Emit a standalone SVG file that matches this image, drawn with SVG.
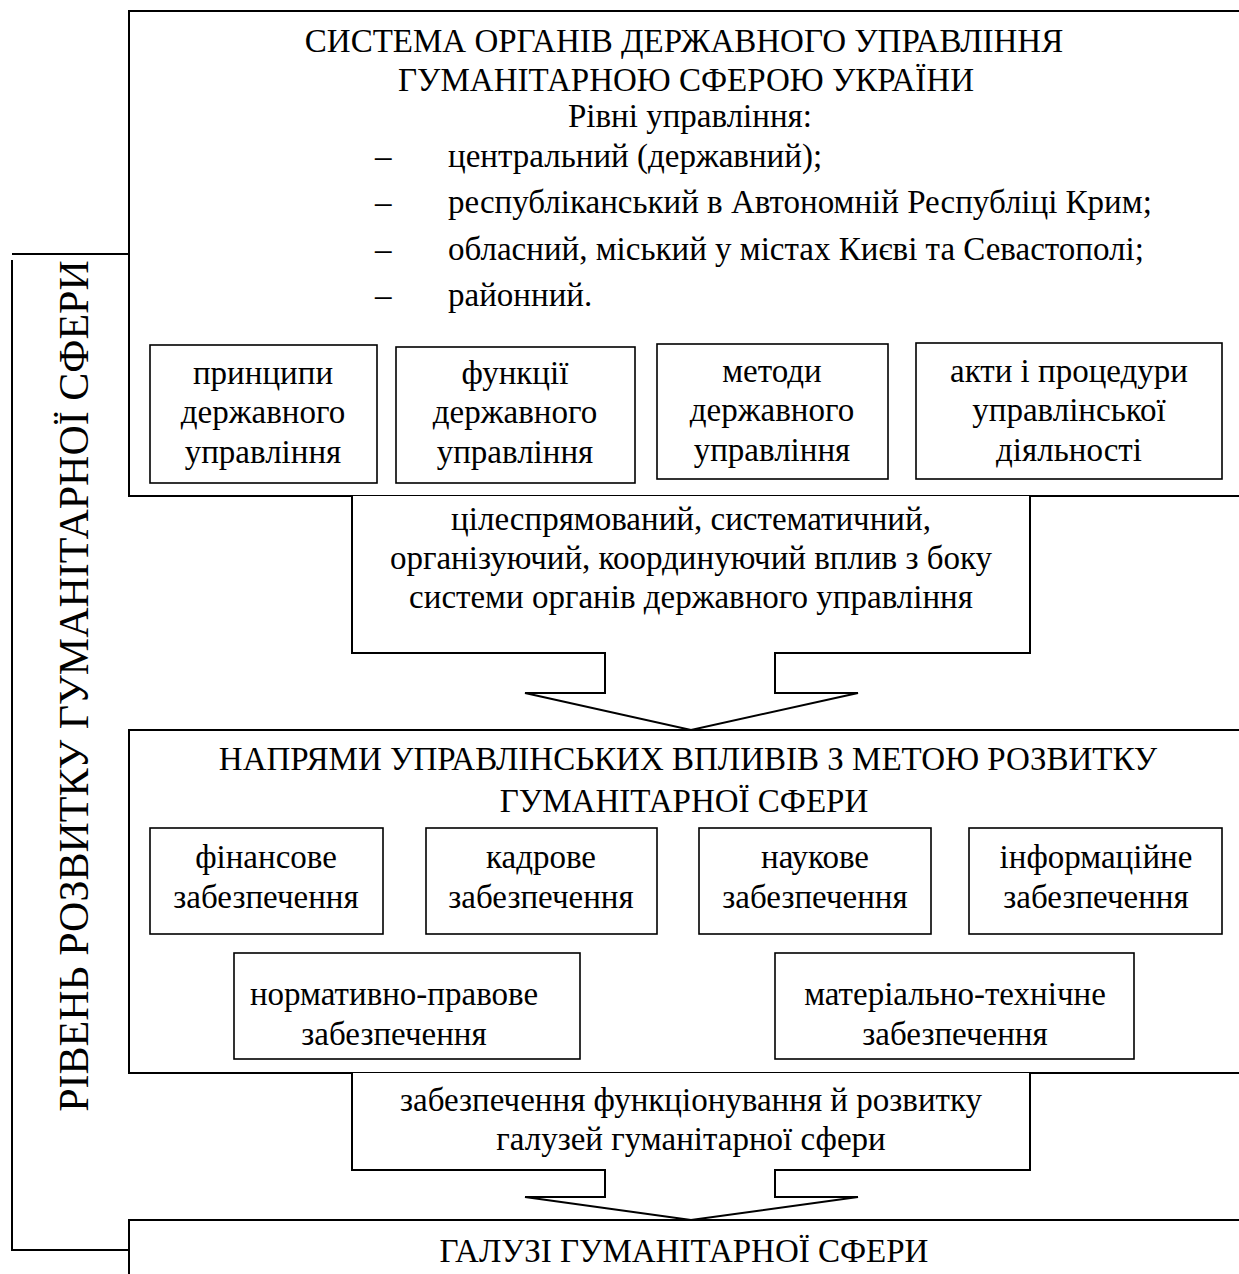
<svg xmlns="http://www.w3.org/2000/svg" width="1239" height="1274" viewBox="0 0 1239 1274">
<style>
.ln{fill:none;stroke:#000;stroke-width:2}
.bx{fill:#fff;stroke:#000;stroke-width:2}
.ib{fill:#fff;stroke:#000;stroke-width:1.6}
text{font-family:"Liberation Serif","Times New Roman",serif;font-size:33px;fill:#000}
.c{text-anchor:middle}
.v{font-size:42px}
</style>
<rect width="1239" height="1274" fill="#fff"/>
<g id="top-system">
<rect class="bx" x="129" y="11" width="1140" height="485"/>
<text class="c" x="684" y="52">СИСТЕМА ОРГАНІВ ДЕРЖАВНОГО УПРАВЛІННЯ</text>
<text class="c" x="686" y="91">ГУМАНІТАРНОЮ СФЕРОЮ УКРАЇНИ</text>
<text class="c" x="690" y="127">Рівні управління:</text>
<text x="375" y="167">–</text><text x="448" y="167">центральний (державний);</text>
<text x="375" y="213">–</text><text x="448" y="213">республіканський в Автономній Республіці Крим;</text>
<text x="375" y="260">–</text><text x="448" y="260">обласний, міський у містах Києві та Севастополі;</text>
<text x="375" y="306">–</text><text x="448" y="306">районний.</text>
</g>
<g id="principles">
<rect class="ib" x="150" y="345" width="227" height="138"/>
<text class="c" x="263" y="384">принципи</text><text class="c" x="263" y="423">державного</text><text class="c" x="263" y="463">управління</text>
</g>
<g id="functions">
<rect class="ib" x="396" y="347" width="239" height="136"/>
<text class="c" x="515" y="384">функції</text><text class="c" x="515" y="423">державного</text><text class="c" x="515" y="463">управління</text>
</g>
<g id="methods">
<rect class="ib" x="657" y="344" width="231" height="135"/>
<text class="c" x="772" y="382">методи</text><text class="c" x="772" y="421">державного</text><text class="c" x="772" y="461">управління</text>
</g>
<g id="acts">
<rect class="ib" x="916" y="343" width="306" height="136"/>
<text class="c" x="1069" y="382">акти і процедури</text><text class="c" x="1069" y="421">управлінської</text><text class="c" x="1069" y="461">діяльності</text>
</g>
<g id="directions">
<rect class="bx" x="129" y="730" width="1140" height="343"/>
<text class="c" x="688" y="770">НАПРЯМИ УПРАВЛІНСЬКИХ ВПЛИВІВ З МЕТОЮ РОЗВИТКУ</text>
<text class="c" x="684" y="812">ГУМАНІТАРНОЇ СФЕРИ</text>
</g>
<g id="financial"><rect class="ib" x="150" y="828" width="233" height="106"/><text class="c" x="266" y="868">фінансове</text><text class="c" x="266" y="908">забезпечення</text></g>
<g id="personnel"><rect class="ib" x="426" y="828" width="231" height="106"/><text class="c" x="541" y="868">кадрове</text><text class="c" x="541" y="908">забезпечення</text></g>
<g id="scientific"><rect class="ib" x="699" y="828" width="232" height="106"/><text class="c" x="815" y="868">наукове</text><text class="c" x="815" y="908">забезпечення</text></g>
<g id="information"><rect class="ib" x="969" y="828" width="253" height="106"/><text class="c" x="1096" y="868">інформаційне</text><text class="c" x="1096" y="908">забезпечення</text></g>
<g id="legal"><rect class="ib" x="234" y="953" width="346" height="106"/><text class="c" x="394" y="1005">нормативно-правове</text><text class="c" x="394" y="1045">забезпечення</text></g>
<g id="material"><rect class="ib" x="775" y="953" width="359" height="106"/><text class="c" x="955" y="1005">матеріально-технічне</text><text class="c" x="955" y="1045">забезпечення</text></g>
<g id="branches">
<rect class="bx" x="129" y="1220" width="1140" height="80"/>
<text class="c" x="684" y="1262">ГАЛУЗІ ГУМАНІТАРНОЇ СФЕРИ</text>
</g>
<g id="connectors">
<path class="bx" d="M352,496 V653 H605 V693 H525 L691,730 L858,693 H775 V653 H1030 V496"/>
<text class="c" x="691" y="530">цілеспрямований, систематичний,</text>
<text class="c" x="691" y="569">організуючий, координуючий вплив з боку</text>
<text class="c" x="691" y="608">системи органів державного управління</text>
<path class="bx" d="M352,1073 V1170 H605 V1197 H525 L691,1220 L858,1197 H775 V1170 H1030 V1073"/>
<text class="c" x="691" y="1111">забезпечення функціонування й розвитку</text>
<text class="c" x="691" y="1150">галузей гуманітарної сфери</text>
<path class="ln" d="M12,254 H129"/>
<path class="ln" d="M12,260 V1250 H129"/>
</g>
<g id="level-label">
<text class="c v" transform="translate(88,686) rotate(-90)" x="0" y="0">РІВЕНЬ РОЗВИТКУ ГУМАНІТАРНОЇ СФЕРИ</text>
</g>
</svg>
